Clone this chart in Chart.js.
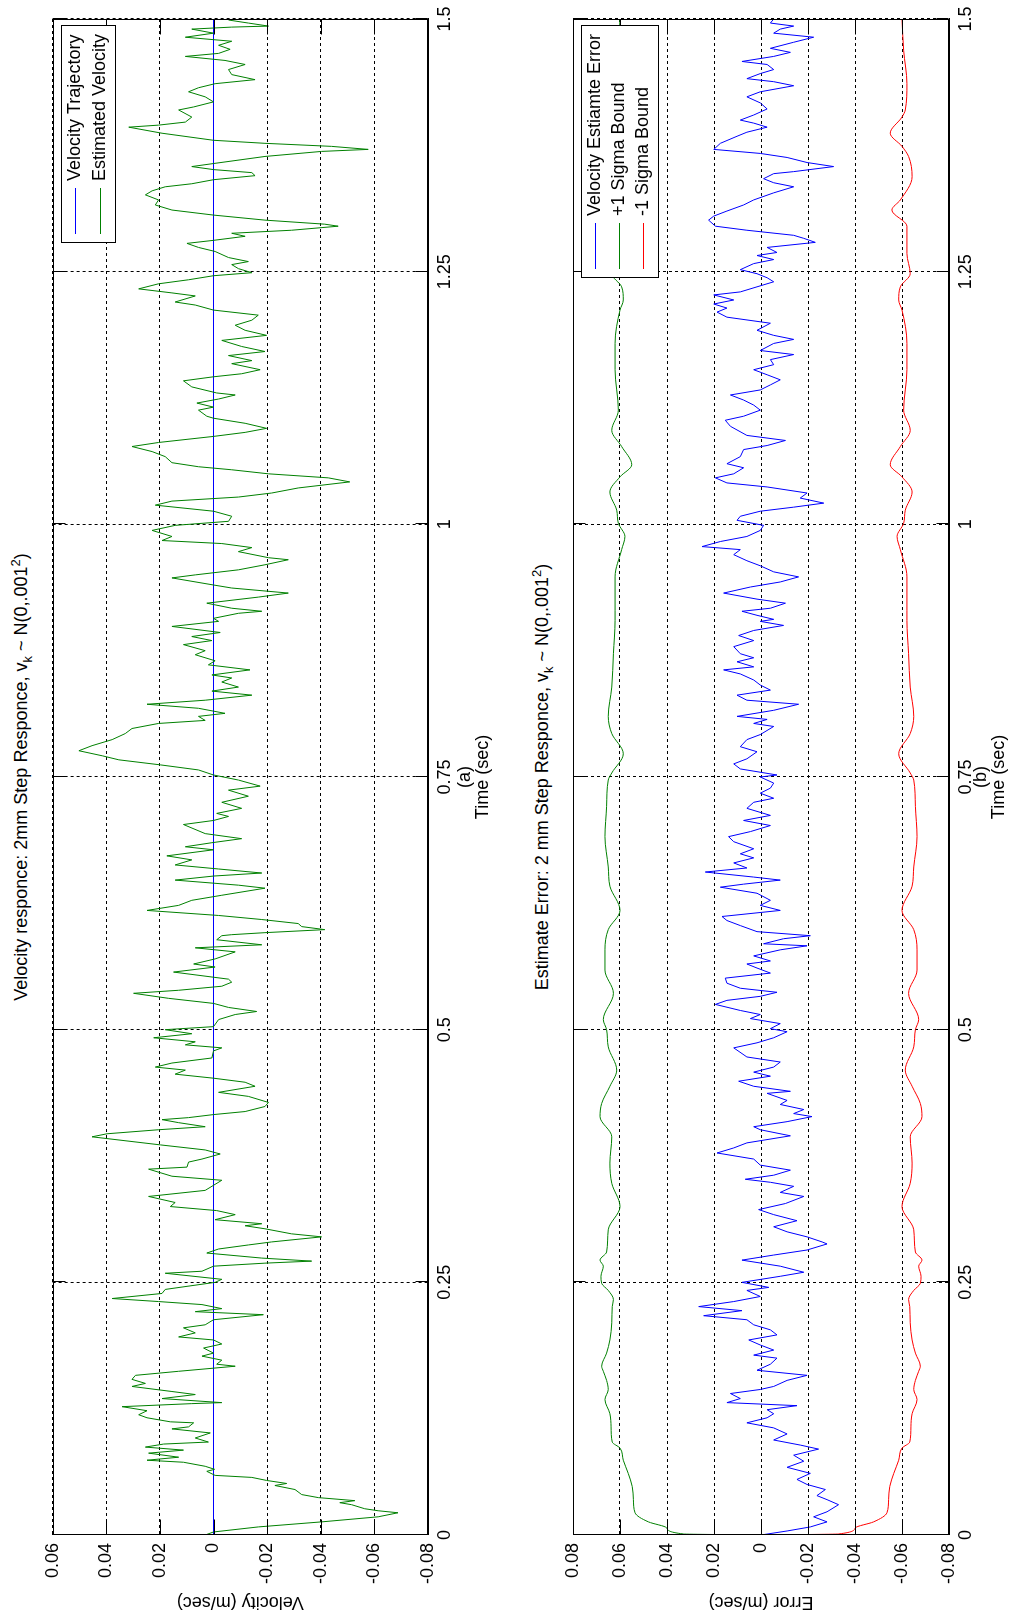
<!DOCTYPE html>
<html>
<head>
<meta charset="utf-8">
<title>Velocity responce and estimate error</title>
<script src="https://cdn.jsdelivr.net/npm/chart.js@4.4.1/dist/chart.umd.min.js"></script>
<style>
  html, body { margin: 0; padding: 0; background: #fff; overflow: hidden; }
  /* the figure is laid out landscape, then turned a quarter turn to the left */
  #page { position: absolute; left: 0; top: 0; width: 1619px; height: 1021px;
          transform-origin: 0 0; transform: translateY(1619px) rotate(-90deg);
          font-family: 'Liberation Sans', Arial, sans-serif; color: #000; }
  #page canvas { position: absolute; left: 0; }
  .ttl { position: absolute; left: 84px; width: 1516px; text-align: center;
         font-size: 18px; line-height: 20px; white-space: nowrap; }
  .ttl sub { font-size: 13px; vertical-align: -5px; line-height: 0; }
  .ttl sup { font-size: 13px; vertical-align: 7px; line-height: 0; }
</style>
</head>
<body>
<div id="page">
  <div class="ttl" style="top:11px">Velocity responce: 2mm Step Responce, v<sub>k</sub> ~ N(0,.001<sup>2</sup>)</div>
  <canvas id="velChart" width="1619" height="510" style="top:0"></canvas>
  <div class="ttl" style="top:532px">Estimate Error: 2 mm Step Responce, v<sub>k</sub> ~ N(0,.001<sup>2</sup>)</div>
  <canvas id="errChart" width="1619" height="511" style="top:510px"></canvas>
</div>
<script>
const timeTicks = [0, 0.25, 0.5, 0.75, 1, 1.25, 1.5];
const timeLabels = ['0', '0.25', '0.5', '0.75', '1', '1.25', '1.5'];
const velTicks = [-0.08, -0.06, -0.04, -0.02, 0, 0.02, 0.04, 0.06];
const velLabels = ['-0.08', '-0.06', '-0.04', '-0.02', '0', '0.02', '0.04', '0.06'];
const errTicks = [-0.08, -0.06, -0.04, -0.02, 0, 0.02, 0.04, 0.06, 0.08];
const errLabels = ['-0.08', '-0.06', '-0.04', '-0.02', '0', '0.02', '0.04', '0.06', '0.08'];

// reference trajectory (zero velocity)
const trajT = [0, 1.5];
const trajV = [0, 0];

// estimated velocity (a)
const velT = [0.000,0.003,0.008,0.013,0.018,0.022,0.024,0.026,0.030,0.032,0.034,0.037,0.040,0.045,0.049,0.051,0.054,0.057,0.059,0.063,
  0.065,0.068,0.072,0.074,0.077,0.081,0.084,0.087,0.090,0.092,0.096,0.101,0.105,0.107,0.111,0.112,0.116,0.119,0.123,0.127,
  0.130,0.131,0.135,0.139,0.142,0.147,0.150,0.154,0.158,0.162,0.167,0.169,0.173,0.177,0.180,0.185,0.189,0.193,0.196,0.200,
  0.205,0.208,0.213,0.218,0.221,0.224,0.228,0.231,0.234,0.239,0.243,0.250,0.253,0.259,0.261,0.266,0.269,0.271,0.274,0.279,
  0.283,0.287,0.290,0.295,0.298,0.303,0.306,0.308,0.312,0.317,0.321,0.325,0.329,0.335,0.341,0.346,0.351,0.355,0.362,0.364,
  0.369,0.372,0.377,0.381,0.386,0.394,0.397,0.401,0.404,0.408,0.411,0.413,0.416,0.419,0.424,0.428,0.434,0.438,0.444,0.448,
  0.452,0.456,0.460,0.463,0.467,0.472,0.479,0.482,0.485,0.488,0.492,0.496,0.500,0.503,0.510,0.515,0.518,0.522,0.526,0.531,
  0.536,0.539,0.543,0.547,0.550,0.557,0.562,0.565,0.570,0.577,0.581,0.584,0.589,0.593,0.594,0.596,0.599,0.602,0.605,0.609,
  0.613,0.618,0.623,0.628,0.633,0.640,0.643,0.648,0.652,0.655,0.659,0.663,0.668,0.672,0.678,0.681,0.685,0.689,0.694,0.703,
  0.707,0.711,0.714,0.719,0.725,0.731,0.737,0.741,0.747,0.752,0.757,0.762,0.767,0.771,0.776,0.781,0.787,0.793,0.798,0.803,
  0.806,0.810,0.813,0.818,0.822,0.826,0.831,0.835,0.839,0.844,0.848,0.851,0.856,0.861,0.865,0.871,0.875,0.881,0.885,0.889,
  0.893,0.899,0.904,0.907,0.912,0.914,0.917,0.922,0.928,0.932,0.937,0.940,0.947,0.950,0.955,0.960,0.965,0.967,0.973,0.977,
  0.981,0.984,0.988,0.994,0.999,1.003,1.008,1.013,1.019,1.023,1.027,1.031,1.036,1.042,1.046,1.050,1.054,1.057,1.061,1.067,
  1.072,1.077,1.081,1.087,1.091,1.095,1.100,1.105,1.107,1.113,1.116,1.120,1.124,1.128,1.130,1.136,1.142,1.146,1.149,1.153,
  1.159,1.162,1.167,1.171,1.176,1.182,1.187,1.192,1.197,1.202,1.207,1.212,1.217,1.220,1.226,1.229,1.233,1.238,1.242,1.246,
  1.249,1.253,1.257,1.260,1.264,1.270,1.274,1.278,1.281,1.285,1.288,1.291,1.295,1.297,1.301,1.306,1.311,1.316,1.321,1.326,
  1.330,1.334,1.337,1.341,1.345,1.348,1.351,1.354,1.357,1.364,1.369,1.371,1.374,1.377,1.380,1.387,1.393,1.395,1.398,1.403,
  1.410,1.413,1.418,1.423,1.428,1.432,1.436,1.440,1.445,1.450,1.455,1.459,1.463,1.466,1.470,1.474,1.478,1.482,1.486,1.490,
  1.492,1.493,1.496,1.499];
const velEst = [0.0031,0,-0.0167,-0.0403,-0.0614,-0.0688,-0.0614,-0.0564,-0.0515,-0.0471,-0.0527,-0.0391,-0.0329,-0.0304,-0.0229,-0.0273,-0.0198,-0.0143,-0.0006,0.0025,
  -0.0004,0.0031,0.0112,0.0248,0.0130,0.0242,0.0112,0.0254,0.0186,0.0019,0.0068,0.0012,0.0155,0.0093,0.0074,0.0161,0.0248,0.0279,0.0248,0.0341,
  0.0081,-0.0031,0.0192,0.0068,0.0155,0.0304,0.0254,0.0304,0.0291,0.0130,-0.0081,-0.0012,-0.0031,0.0043,0,0.0037,-0.0031,0,0.0130,0.0068,
  0.0112,0.0031,0,-0.0186,0.0068,-0.0031,0.0043,0.0205,0.0378,0.0192,0.0180,-0.0006,-0.0031,0.0180,0.0043,0,-0.0192,-0.0366,-0.0180,0.0025,
  -0.0019,-0.0130,-0.0217,-0.0403,-0.0291,-0.0192,-0.0118,-0.0180,-0.0006,-0.0081,-0.0012,0.0161,0.0143,0.0242,0.0031,0,-0.0031,0.0155,0.0242,0.0099,
  0.0093,0.0043,-0.0025,0.0031,0.0198,0.0453,0.0397,0.0205,0.0031,0.0130,0.0192,0.0093,0,-0.0118,-0.0192,-0.0205,-0.0130,-0.0019,-0.0155,-0.0118,
  0,0.0143,0.0105,0.0217,0.0155,0.0006,0,-0.0031,0.0105,0.0068,0.0223,0.0081,0.0180,0,-0.0019,-0.0081,-0.0161,-0.0056,0,0.0167,
  0.0298,0.0130,-0.0031,-0.0068,-0.0056,0.0149,-0.0006,0.0074,-0.0006,-0.0081,0.0068,-0.0180,-0.0012,-0.0031,-0.0068,-0.0192,-0.0415,-0.0329,-0.0316,-0.0180,
  -0.0019,0.0248,0.0130,0.0081,-0.0031,-0.0192,-0.0093,0.0143,0,-0.0180,-0.0019,0.0143,0.0081,0.0174,0,0.0105,0.0006,-0.0105,0.0031,0.0112,
  0,-0.0056,-0.0012,-0.0105,-0.0031,-0.0130,-0.0056,-0.0174,-0.0093,0,0.0056,0.0198,0.0353,0.0415,0.0502,0.0453,0.0378,0.0329,0.0304,0.0205,
  0.0031,0.0056,-0.0043,0.0056,0.0248,0.0031,-0.0143,0.0006,-0.0093,-0.0031,-0.0068,0.0006,-0.0136,0.0019,-0.0006,0.0068,0.0031,0.0112,0.0006,0.0081,
  -0.0025,0.0155,-0.0019,0,-0.0093,-0.0180,-0.0068,0.0025,-0.0167,-0.0279,-0.0068,0,0.0155,0.0068,-0.0093,-0.0192,-0.0279,-0.0205,-0.0093,-0.0143,
  -0.0031,0.0192,0.0155,0.0229,0.0143,-0.0056,-0.0068,0,0.0217,0.0155,-0.0093,-0.0217,-0.0316,-0.0508,-0.0428,-0.0205,-0.0068,0.0056,0.0155,0.0180,
  0.0229,0.0304,0.0205,0,-0.0118,-0.0198,-0.0118,0,0.0025,0.0056,0,0.0062,-0.0019,-0.0081,-0.0012,0.0081,0.0112,0,-0.0105,-0.0174,
  -0.0068,-0.0143,-0.0056,-0.0192,-0.0105,-0.0031,-0.0198,-0.0118,-0.0081,-0.0143,-0.0167,0,0.0068,0.0143,0.0068,0.0155,0.0279,0.0205,0.0093,0,
  -0.0143,-0.0093,-0.0068,-0.0130,-0.0056,-0.0006,0.0056,0.0099,0,-0.0118,-0.0068,-0.0291,-0.0465,-0.0415,-0.0192,0,0.0155,0.0217,0.0205,0.0254,
  0.0229,0.0180,0.0081,0,-0.0155,-0.0143,0,0.0081,0,-0.0192,-0.0403,-0.0577,-0.0440,-0.0192,0,0.0192,0.0316,0.0205,0.0105,0.0081,
  0.0130,0.0074,0,0.0031,0.0093,0.0056,-0.0006,-0.0155,-0.0068,-0.0056,-0.0118,-0.0043,0.0105,-0.0019,-0.0062,-0.0019,-0.0068,0.0105,0,0.0081,
  -0.0068,-0.0205,-0.0130,-0.0056];

// velocity estimate error (b)
const errT = [0.000,0.004,0.008,0.013,0.018,0.023,0.030,0.035,0.039,0.045,0.050,0.055,0.061,0.067,0.073,0.079,0.085,0.089,0.094,0.100,
  0.106,0.111,0.116,0.120,0.124,0.128,0.131,0.135,0.140,0.144,0.147,0.153,0.158,0.163,0.169,0.175,0.178,0.183,0.188,0.193,
  0.198,0.203,0.208,0.213,0.217,0.222,0.226,0.231,0.236,0.242,0.245,0.250,0.256,0.260,0.266,0.272,0.277,0.282,0.288,0.290,
  0.295,0.300,0.305,0.311,0.317,0.322,0.328,0.335,0.339,0.345,0.349,0.352,0.356,0.361,0.366,0.372,0.378,0.383,0.388,0.395,
  0.401,0.404,0.409,0.414,0.417,0.421,0.426,0.430,0.437,0.439,0.444,0.449,0.454,0.458,0.463,0.468,0.473,0.482,0.487,0.492,
  0.498,0.501,0.506,0.511,0.515,0.519,0.525,0.529,0.533,0.537,0.541,0.546,0.551,0.556,0.561,0.565,0.568,0.573,0.579,0.583,
  0.585,0.590,0.593,0.597,0.603,0.608,0.612,0.618,0.623,0.628,0.635,0.641,0.644,0.648,0.651,0.656,0.660,0.665,0.670,0.674,
  0.679,0.686,0.691,0.696,0.702,0.707,0.712,0.719,0.725,0.729,0.734,0.739,0.744,0.750,0.752,0.758,0.763,0.768,0.775,0.780,
  0.787,0.792,0.800,0.803,0.807,0.810,0.816,0.822,0.826,0.831,0.836,0.841,0.846,0.852,0.856,0.859,0.864,0.868,0.872,0.879,
  0.885,0.890,0.895,0.900,0.904,0.906,0.910,0.914,0.917,0.922,0.926,0.932,0.938,0.943,0.948,0.953,0.959,0.964,0.970,0.975,
  0.978,0.983,0.988,0.994,0.999,1.004,1.008,1.013,1.017,1.021,1.026,1.031,1.037,1.041,1.046,1.050,1.056,1.060,1.067,1.074,
  1.078,1.083,1.088,1.097,1.103,1.107,1.113,1.118,1.123,1.128,1.133,1.138,1.143,1.148,1.153,1.158,1.163,1.168,1.172,1.179,
  1.183,1.187,1.192,1.199,1.205,1.210,1.214,1.218,1.222,1.227,1.230,1.235,1.240,1.244,1.248,1.252,1.258,1.262,1.266,1.269,
  1.274,1.279,1.283,1.286,1.291,1.295,1.301,1.305,1.310,1.316,1.321,1.328,1.334,1.338,1.342,1.347,1.349,1.354,1.358,1.363,
  1.367,1.371,1.377,1.384,1.388,1.393,1.397,1.400,1.405,1.411,1.417,1.423,1.428,1.434,1.438,1.441,1.446,1.450,1.455,1.458,
  1.463,1.467,1.471,1.477,1.482,1.486,1.490,1.493,1.496,1.500];
const errEst = [0,-0.0111,-0.0210,-0.0281,-0.0224,-0.0281,-0.0330,-0.0281,-0.0238,-0.0274,-0.0196,-0.0153,-0.0210,-0.0111,-0.0182,-0.0139,-0.0245,-0.0167,-0.0054,-0.0111,
  -0.0054,0.0060,-0.0026,-0.0054,-0.0026,-0.0153,0.0145,0.0088,0.0130,0.0003,-0.0054,-0.0111,-0.0196,0.0017,-0.0040,-0.0068,0.0031,-0.0054,0.0003,0.0052,
  -0.0068,-0.0040,0.0031,0.0060,0.0244,0.0081,0.0265,0.0116,0.0003,0.0060,-0.0033,0.0081,-0.0082,-0.0182,-0.0082,0.0081,-0.0054,-0.0196,-0.0281,-0.0260,
  -0.0196,-0.0111,-0.0054,-0.0153,-0.0054,0.0010,-0.0104,-0.0182,-0.0082,-0.0139,-0.0040,0.0067,-0.0054,-0.0125,0.0003,0.0031,0.0187,0.0116,0.0060,-0.0125,
  0.0003,0.0031,-0.0111,-0.0217,-0.0139,-0.0182,-0.0082,-0.0111,-0.0026,-0.0125,0.0031,0.0095,-0.0040,0.0031,-0.0054,-0.0082,0.0060,0.0116,0.0017,-0.0054,
  -0.0111,-0.0040,-0.0082,0.0045,0.0003,0.0088,0.0194,0.0145,0.0003,-0.0068,0.0088,0.0145,0.0152,-0.0040,0.0017,0.0060,-0.0040,0.0031,-0.0082,-0.0196,
  -0.0011,-0.0096,-0.0210,0.0017,0.0088,0.0145,0.0166,-0.0082,0.0003,-0.0040,0.0017,0.0173,0.0074,-0.0082,0.0031,0.0237,0.0060,0.0116,0.0031,0.0088,
  0.0031,0.0116,0.0138,0.0045,-0.0040,0.0074,-0.0040,0.0060,0.0031,-0.0054,0.0003,-0.0040,-0.0054,0.0003,-0.0068,0.0088,0.0116,0.0060,0.0017,0.0088,
  0.0060,0.0003,-0.0054,0.0031,-0.0026,0.0102,-0.0054,-0.0160,0.0060,0.0102,-0.0040,0.0003,0.0031,0.0088,0.0159,0.0031,0.0102,0.0031,0.0088,0.0116,
  0.0031,0.0095,0.0031,-0.0096,0.0003,-0.0054,0.0017,0.0081,-0.0040,-0.0104,0.0017,0.0159,0.0045,-0.0082,-0.0160,-0.0054,0.0003,0.0060,0.0116,0.0088,
  0.0251,0.0173,0.0060,0.0003,-0.0011,0.0102,0.0088,0.0003,-0.0139,-0.0267,-0.0167,-0.0196,-0.0026,0.0145,0.0194,0.0116,0.0074,0.0145,0.0088,0.0074,
  -0.0026,-0.0104,0.0060,0.0130,0.0152,0.0074,0.0003,0.0031,0.0074,0.0130,0.0003,-0.0040,-0.0082,-0.0026,0.0031,-0.0054,-0.0040,-0.0139,0.0003,-0.0054,
  -0.0139,-0.0054,0.0017,-0.0040,0.0145,0.0187,0.0145,0.0201,0.0116,0.0201,0.0088,0.0017,-0.0054,-0.0026,0.0017,0.0088,0.0031,-0.0054,0.0017,-0.0068,
  -0.0026,-0.0231,-0.0182,-0.0139,0.0060,0.0194,0.0223,0.0201,0.0145,0.0074,0.0031,-0.0054,-0.0139,-0.0054,-0.0011,-0.0054,-0.0139,-0.0309,-0.0196,-0.0111,
  0.0003,0.0201,0.0173,0.0102,0.0060,-0.0026,0.0031,0.0088,0.0031,-0.0026,0.0003,0.0060,0.0003,-0.0139,-0.0054,0.0060,0.0003,-0.0054,-0.0026,0.0081,
  -0.0054,-0.0125,-0.0040,-0.0139,-0.0224,-0.0054,-0.0082,-0.0139,-0.0040,-0.0054];

// one sigma bound (the lower bound is its negative)
const sigT = [0.000,0.001,0.007,0.013,0.022,0.035,0.048,0.061,0.074,0.086,0.092,0.107,0.120,0.134,0.144,0.153,0.162,0.167,0.180,0.193,
  0.210,0.226,0.233,0.242,0.249,0.256,0.266,0.272,0.280,0.302,0.325,0.348,0.368,0.394,0.414,0.427,0.444,0.460,0.483,0.500,
  0.510,0.536,0.559,0.579,0.599,0.618,0.642,0.661,0.691,0.721,0.747,0.754,0.773,0.793,0.810,0.839,0.872,0.905,0.915,0.948,
  0.975,0.988,1.001,1.014,1.032,1.047,1.059,1.077,1.093,1.113,1.153,1.179,1.212,1.222,1.235,1.248,1.268,1.295,1.311,1.321,
  1.344,1.364,1.374,1.387,1.403,1.410,1.436,1.469,1.500];
const sigBound = [0,0.0329,0.0401,0.0479,0.0536,0.0543,0.0548,0.0565,0.0586,0.0600,0.0633,0.0638,0.0643,0.0664,0.0650,0.0657,0.0671,0.0678,0.0657,0.0643,
  0.0635,0.0633,0.0628,0.0650,0.0678,0.0681,0.0671,0.0685,0.0657,0.0650,0.0600,0.0635,0.0643,0.0635,0.0685,0.0678,0.0643,0.0614,0.0650,0.0657,
  0.0671,0.0628,0.0664,0.0664,0.0650,0.0600,0.0643,0.0650,0.0664,0.0657,0.0650,0.0635,0.0586,0.0635,0.0650,0.0635,0.0628,0.0621,0.0621,0.0621,
  0.0593,0.0579,0.0607,0.0614,0.0643,0.0600,0.0550,0.0593,0.0635,0.0607,0.0621,0.0621,0.0600,0.0586,0.0593,0.0635,0.0621,0.0621,0.0557,0.0593,
  0.0643,0.0628,0.0600,0.0550,0.0600,0.0614,0.0621,0.0607,0.0600];

const FONT = "'Liberation Sans', Arial, sans-serif";
Chart.defaults.font.family = FONT;
Chart.defaults.font.size = 18;
Chart.defaults.color = '#000';

const pts = (xs, ys) => xs.map((x, i) => ({ x: x, y: ys[i] }));

function line(label, xs, ys, color, extra) {
    return Object.assign({
        label: label,
        data: pts(xs, ys),
        borderColor: color,
        backgroundColor: color,
        borderWidth: 1,
        pointRadius: 0,
        fill: false,
        tension: 0
    }, extra || {});
}

// MATLAB style box: inward tick marks on all four sides and a closed frame
const boxTicks = {
    id: 'boxTicks',
    afterDatasetsDraw(chart) {
        const { ctx, chartArea: a, scales: { x, y } } = chart;
        const L = Math.round(a.left) + 0.5, R = Math.round(a.right) - 0.5;
        const T = Math.round(a.top) + 0.5, B = Math.round(a.bottom) - 0.5;
        ctx.save();
        ctx.strokeStyle = '#000';
        ctx.lineWidth = 1;
        ctx.beginPath();
        x.ticks.forEach(t => {
            const px = Math.round(x.getPixelForValue(t.value)) + 0.5;
            ctx.moveTo(px, B); ctx.lineTo(px, B - 12);
            ctx.moveTo(px, T); ctx.lineTo(px, T + 12);
        });
        y.ticks.forEach(t => {
            const py = Math.round(y.getPixelForValue(t.value)) + 0.5;
            ctx.moveTo(L, py); ctx.lineTo(L + 15, py);
            ctx.moveTo(R, py); ctx.lineTo(R - 15, py);
        });
        ctx.stroke();
        ctx.strokeRect(L, T, R - L, B - T);
        ctx.restore();
    }
};

// boxed legend in the upper right corner of the plot
const boxLegend = {
    id: 'boxLegend',
    afterDraw(chart, args, opts) {
        const { ctx, chartArea: a } = chart;
        const items = chart.data.datasets;
        ctx.save();
        ctx.font = '18px ' + FONT;
        const textW = Math.max(...items.map(d => ctx.measureText(d.label).width));
        const w = Math.round(9 + 46 + 7 + textW + 8);
        const h = Math.round(14 + opts.rowH * (items.length - 1) + 15);
        const right = Math.round(a.right) - 7;
        const top = Math.round(a.top) + 8;
        const left = right - w;
        ctx.fillStyle = '#fff';
        ctx.fillRect(left, top, w, h);
        ctx.strokeStyle = '#000';
        ctx.lineWidth = 1;
        ctx.strokeRect(left + 0.5, top + 0.5, w, h);
        items.forEach((d, i) => {
            const yy = Math.round(top + 14 + i * opts.rowH) + 0.5;
            ctx.strokeStyle = d.borderColor;
            ctx.beginPath();
            ctx.moveTo(left + 9, yy);
            ctx.lineTo(left + 55, yy);
            ctx.stroke();
            ctx.fillStyle = '#000';
            ctx.textBaseline = 'middle';
            ctx.fillText(d.label, left + 62, yy);
        });
        ctx.restore();
    }
};

function makeScales(yMin, yMax, yTicks, yLabels, yTitle, xTitle, xHeight, xTitlePad) {
    return {
        x: {
            type: 'linear', min: 0, max: 1.5,
            afterBuildTicks: s => { s.ticks = timeTicks.map(v => ({ value: v })); },
            afterFit: s => { s.height = xHeight; },
            ticks: { callback: v => timeLabels[timeTicks.indexOf(v)], padding: 6, maxRotation: 0, autoSkip: false },
            grid: { color: '#000', lineWidth: 1, drawTicks: false },
            border: { color: '#000', width: 1, dash: [3, 3] },
            title: { display: true, text: xTitle, font: { size: 18, lineHeight: 1 }, padding: { top: 0, bottom: xTitlePad } }
        },
        y: {
            type: 'linear', min: yMin, max: yMax,
            afterBuildTicks: s => { s.ticks = yTicks.map(v => ({ value: v })); },
            afterFit: s => { s.width = 84; },
            ticks: { callback: v => yLabels[yTicks.indexOf(v)], padding: 8, autoSkip: false },
            grid: { color: '#000', lineWidth: 1, drawTicks: false },
            border: { color: '#000', width: 1, dash: [3, 3] },
            title: { display: true, text: yTitle, font: { size: 18, lineHeight: 1 }, padding: { top: 8, bottom: 0 } }
        }
    };
}

const common = {
    responsive: false,
    animation: false,
    devicePixelRatio: 1,
    events: [],
    plugins: { legend: { display: false }, title: { display: false }, tooltip: { enabled: false } }
};

new Chart(document.getElementById('velChart'), {
    type: 'line',
    data: {
        datasets: [
            line('Velocity Trajectory', trajT, trajV, 'rgb(0,0,255)', { order: 1 }),
            line('Estimated Velocity', velT, velEst, 'rgb(0,128,0)', { order: 0 })
        ]
    },
    options: Object.assign({}, common, {
        // top edge chosen so the zero level falls on a pixel centre (crisp trajectory line)
        layout: { padding: { top: 52.625, right: 19, bottom: 0, left: 0 } },
        scales: makeScales(-0.08, 0.06, velTicks, velLabels, 'Velocity (m/sec)', ['(a)', 'Time (sec)'], 82, 18),
        plugins: Object.assign({}, common.plugins, { boxLegend: { rowH: 25 } })
    }),
    plugins: [boxTicks, boxLegend]
});

new Chart(document.getElementById('errChart'), {
    type: 'line',
    data: {
        datasets: [
            line('Velocity Estiamte Error', errT, errEst, 'rgb(0,0,255)', { order: 2 }),
            line('+1 Sigma Bound', sigT, sigBound, 'rgb(0,128,0)', { order: 1, cubicInterpolationMode: 'monotone' }),
            line('-1 Sigma Bound', sigT, sigBound.map(v => -v), 'rgb(255,0,0)', { order: 0, cubicInterpolationMode: 'monotone' })
        ]
    },
    options: Object.assign({}, common, {
        layout: { padding: { top: 63, right: 19, bottom: 0, left: 0 } },
        scales: makeScales(-0.08, 0.08, errTicks, errLabels, 'Error (m/sec)', ['(b)', 'Time (sec)'], 72, 13),
        plugins: Object.assign({}, common.plugins, { boxLegend: { rowH: 23.8 } })
    }),
    plugins: [boxTicks, boxLegend]
});
</script>
</body>
</html>
